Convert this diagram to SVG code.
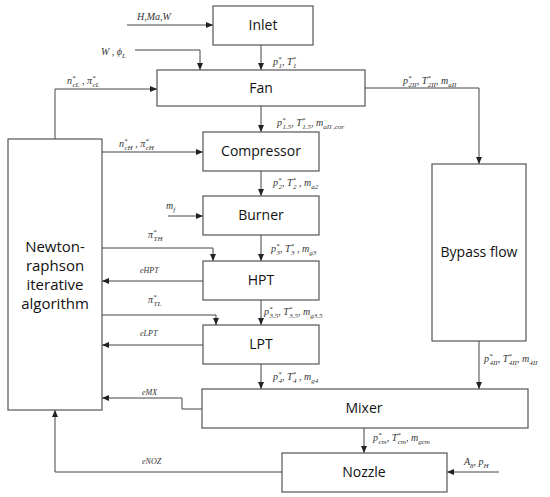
<svg xmlns="http://www.w3.org/2000/svg" width="550" height="497" viewBox="0 0 550 497">
<defs>
<marker id="ah" markerWidth="7" markerHeight="6" refX="7" refY="3" orient="auto" markerUnits="userSpaceOnUse">
<path d="M0,0 L7,3 L0,6 Z" fill="#222"/>
</marker>
<style>
.box{fill:#fff;stroke:#555;stroke-width:1.2}
.lbl{font-family:"Open Sans","Noto Sans",sans-serif;font-size:14px;fill:#111;text-anchor:middle}
.ln{fill:none;stroke:#444;stroke-width:1}
.m{font-family:"Liberation Serif","DejaVu Serif",serif;font-style:italic;font-size:10px;fill:#333}
.s{font-size:7px}
.e{font-family:"Liberation Serif",serif;font-style:italic;font-size:8px;fill:#333}
</style>
</defs>
<rect width="550" height="497" fill="#fff"/>
<g id="connectors">
<path class="ln" d="M127,25 H213" marker-end="url(#ah)"/>
<path class="ln" d="M135,50 H200 V70" marker-end="url(#ah)"/>
<path class="ln" d="M261,45 V70" marker-end="url(#ah)"/>
<path class="ln" d="M55,139 V89 H157" marker-end="url(#ah)"/>
<path class="ln" d="M365,88 H479 V164" marker-end="url(#ah)"/>
<path class="ln" d="M261,106 V132" marker-end="url(#ah)"/>
<path class="ln" d="M102,152 H203" marker-end="url(#ah)"/>
<path class="ln" d="M261,171 V196" marker-end="url(#ah)"/>
<path class="ln" d="M168,216 H203" marker-end="url(#ah)"/>
<path class="ln" d="M261,235 V261" marker-end="url(#ah)"/>
<path class="ln" d="M102,248 H213 V261" marker-end="url(#ah)"/>
<path class="ln" d="M203,281 H102" marker-end="url(#ah)"/>
<path class="ln" d="M261,300 V325" marker-end="url(#ah)"/>
<path class="ln" d="M102,315 H216 V325" marker-end="url(#ah)"/>
<path class="ln" d="M203,345 H102" marker-end="url(#ah)"/>
<path class="ln" d="M261,364 V389" marker-end="url(#ah)"/>
<path class="ln" d="M479,341 V389" marker-end="url(#ah)"/>
<path class="ln" d="M202,409 H182 V398 H102" marker-end="url(#ah)"/>
<path class="ln" d="M364,428 V453" marker-end="url(#ah)"/>
<path class="ln" d="M499,472 H447" marker-end="url(#ah)"/>
<path class="ln" d="M282,472 H55 V410" marker-end="url(#ah)"/>
</g>
<g id="labels">
<text class="m" x="137" y="20">H,Ma,W</text>
<text class="m" x="101" y="55">W , ϕ<tspan class="s" dy="3">L</tspan></text>
<text class="m" x="273" y="65">p<tspan class="s" dy="-4">*</tspan><tspan class="s" dx="-3" dy="7">1</tspan><tspan dy="-3">, T</tspan><tspan class="s" dy="-4">*</tspan><tspan class="s" dx="-3" dy="7">1</tspan></text>
<text class="m" x="277" y="126">p<tspan class="s" dy="-4">*</tspan><tspan class="s" dx="-3" dy="7">1.5</tspan><tspan dy="-3">, T</tspan><tspan class="s" dy="-4">*</tspan><tspan class="s" dx="-3" dy="7">1.5</tspan><tspan dy="-3">, m</tspan><tspan class="s" dy="3">aII ,cor</tspan></text>
<text class="m" x="403" y="84">p<tspan class="s" dy="-4">*</tspan><tspan class="s" dx="-3" dy="7">2II</tspan><tspan dy="-3">, T</tspan><tspan class="s" dy="-4">*</tspan><tspan class="s" dx="-3" dy="7">2II</tspan><tspan dy="-3">, m</tspan><tspan class="s" dy="3">aII</tspan></text>
<text class="m" x="67" y="84">n<tspan class="s" dy="-4">*</tspan><tspan class="s" dx="-3" dy="7">cL</tspan><tspan dy="-3"> , π</tspan><tspan class="s" dy="-4">*</tspan><tspan class="s" dx="-3" dy="7">cL</tspan></text>
<text class="m" x="119" y="147">n<tspan class="s" dy="-4">*</tspan><tspan class="s" dx="-3" dy="7">cH</tspan><tspan dy="-3"> , π</tspan><tspan class="s" dy="-4">*</tspan><tspan class="s" dx="-3" dy="7">cH</tspan></text>
<text class="m" x="273" y="186">p<tspan class="s" dy="-4">*</tspan><tspan class="s" dx="-3" dy="7">2</tspan><tspan dy="-3">, T</tspan><tspan class="s" dy="-4">*</tspan><tspan class="s" dx="-3" dy="7">2</tspan><tspan dy="-3"> , m</tspan><tspan class="s" dy="3">a2</tspan></text>
<text class="m" x="166" y="209">m<tspan class="s" dy="3">f</tspan></text>
<text class="m" x="148" y="238">π<tspan class="s" dy="-4">*</tspan><tspan class="s" dx="-3" dy="7">TH</tspan></text>
<text class="m" x="271" y="252">p<tspan class="s" dy="-4">*</tspan><tspan class="s" dx="-3" dy="7">3</tspan><tspan dy="-3">, T</tspan><tspan class="s" dy="-4">*</tspan><tspan class="s" dx="-3" dy="7">3</tspan><tspan dy="-3"> , m</tspan><tspan class="s" dy="3">g3</tspan></text>
<text class="e" x="140" y="273">eHPT</text>
<text class="m" x="148" y="303">π<tspan class="s" dy="-4">*</tspan><tspan class="s" dx="-3" dy="7">TL</tspan></text>
<text class="m" x="264" y="315">p<tspan class="s" dy="-4">*</tspan><tspan class="s" dx="-3" dy="7">3.5</tspan><tspan dy="-3">, T</tspan><tspan class="s" dy="-4">*</tspan><tspan class="s" dx="-3" dy="7">3.5</tspan><tspan dy="-3">, m</tspan><tspan class="s" dy="3">g3.5</tspan></text>
<text class="e" x="140" y="336">eLPT</text>
<text class="m" x="273" y="380">p<tspan class="s" dy="-4">*</tspan><tspan class="s" dx="-3" dy="7">4</tspan><tspan dy="-3">, T</tspan><tspan class="s" dy="-4">*</tspan><tspan class="s" dx="-3" dy="7">4</tspan><tspan dy="-3"> , m</tspan><tspan class="s" dy="3">g4</tspan></text>
<text class="m" x="484" y="362">p<tspan class="s" dy="-4">*</tspan><tspan class="s" dx="-3" dy="7">4II</tspan><tspan dy="-3">, T</tspan><tspan class="s" dy="-4">*</tspan><tspan class="s" dx="-3" dy="7">4II</tspan><tspan dy="-3">, m</tspan><tspan class="s" dy="3">4II</tspan></text>
<text class="e" x="142" y="395">eMX</text>
<text class="m" x="373" y="441">p<tspan class="s" dy="-4">*</tspan><tspan class="s" dx="-3" dy="7">cm</tspan><tspan dy="-3">, T</tspan><tspan class="s" dy="-4">*</tspan><tspan class="s" dx="-3" dy="7">cm</tspan><tspan dy="-3">, m</tspan><tspan class="s" dy="3">gcm</tspan></text>
<text class="m" x="464" y="465">A<tspan class="s" dy="3">8</tspan><tspan dy="-3">, p</tspan><tspan class="s" dy="3">H</tspan></text>
<text class="e" x="142" y="464">eNOZ</text>
</g>
<g id="inlet"><rect class="box" x="213" y="6" width="100" height="39"/><text class="lbl" x="263" y="30">Inlet</text></g>
<g id="fan"><rect class="box" x="157" y="70" width="208" height="36"/><text class="lbl" x="261" y="93">Fan</text></g>
<g id="compressor"><rect class="box" x="203" y="132" width="116" height="39"/><text class="lbl" x="261" y="156">Compressor</text></g>
<g id="burner"><rect class="box" x="203" y="196" width="116" height="39"/><text class="lbl" x="261" y="220">Burner</text></g>
<g id="hpt"><rect class="box" x="203" y="261" width="116" height="39"/><text class="lbl" x="261" y="285">HPT</text></g>
<g id="lpt"><rect class="box" x="203" y="325" width="116" height="39"/><text class="lbl" x="261" y="349">LPT</text></g>
<g id="mixer"><rect class="box" x="202" y="389" width="326" height="39"/><text class="lbl" x="364" y="413">Mixer</text></g>
<g id="nozzle"><rect class="box" x="282" y="453" width="165" height="39"/><text class="lbl" x="364" y="477">Nozzle</text></g>
<g id="bypass"><rect class="box" x="432" y="164" width="94" height="177"/><text class="lbl" x="479" y="257">Bypass flow</text></g>
<g id="newton"><rect class="box" x="8" y="139" width="94" height="271"/>
<text class="lbl" x="55" style="font-size:15px"><tspan x="55" y="252">Newton-</tspan><tspan x="55" y="271">raphson</tspan><tspan x="55" y="290">iterative</tspan><tspan x="55" y="309">algorithm</tspan></text></g>
</svg>
